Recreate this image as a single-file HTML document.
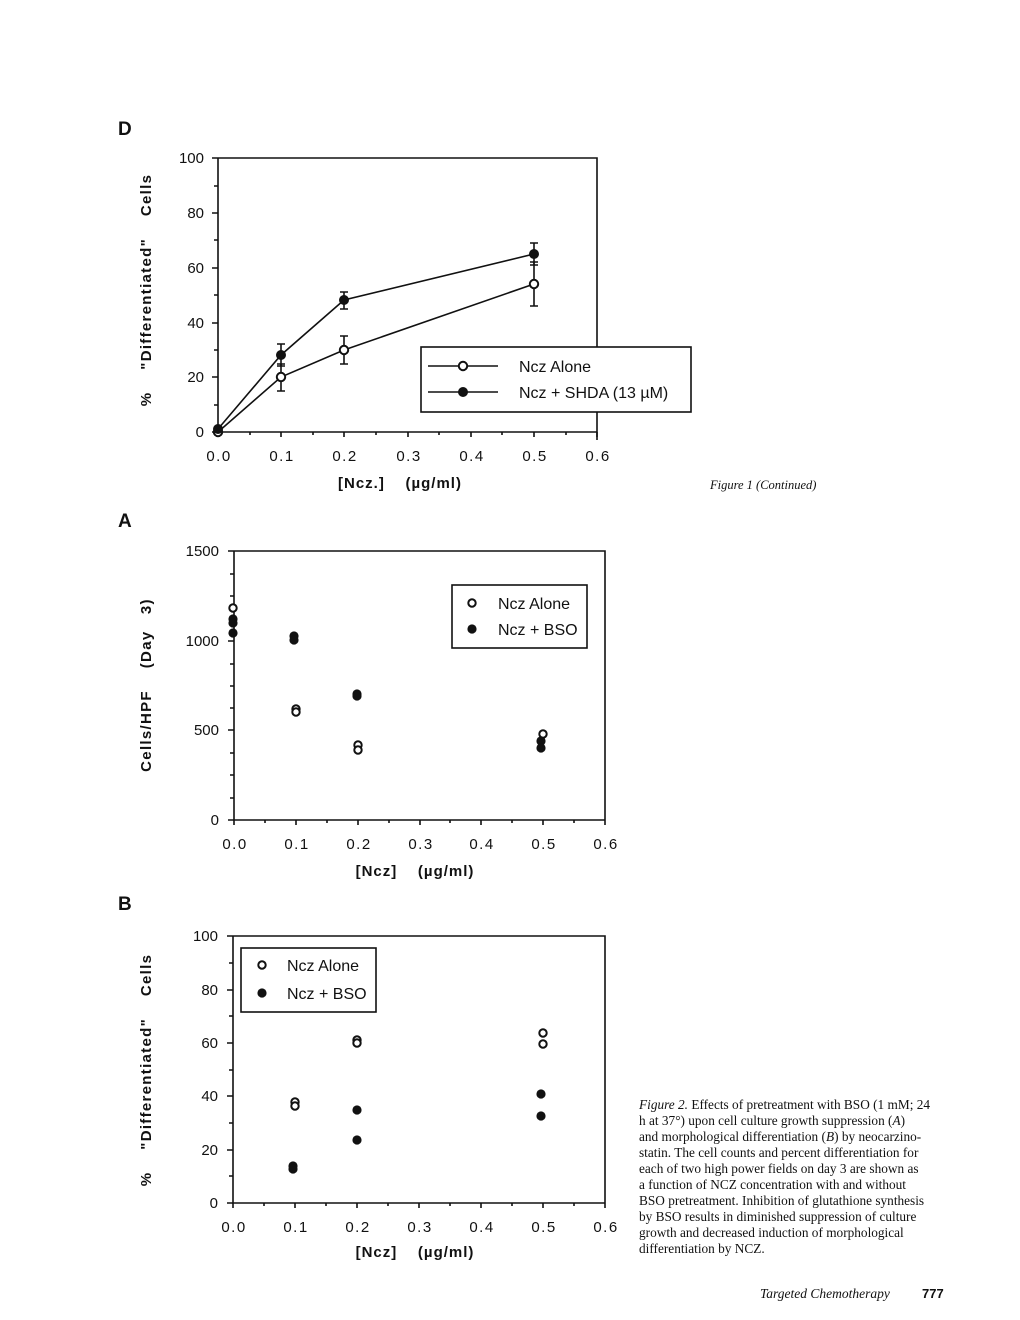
<!DOCTYPE html>
<html><head><meta charset="utf-8"><style>
html,body{margin:0;padding:0;background:#fff;}
svg{display:block;}
text{font-family:"Liberation Sans",sans-serif;fill:#111;}
.t{font-size:15px;}
.b{font-weight:bold;font-size:15px;}
text.s,.s text{font-family:"Liberation Serif",serif;font-size:12.5px;}
.cap text{font-size:13.3px;}
</style></head><body>
<svg width="1020" height="1320" viewBox="0 0 1020 1320" xmlns="http://www.w3.org/2000/svg">
<g stroke="#111" fill="none" stroke-width="1.6">
<path d="M218,158 H597 V440 M218,158 V432 H597"/>
<path d="M212,158h6M212,213h6M212,268h6M212,323h6M212,377h6M212,432h6 M214,186h4M214,240h4M214,295h4M214,350h4M214,405h4"/>
<path d="M218,432v5M281,432v5M344,432v5M408,432v5M471,432v5M534,432v5M597,432v5 M250,432v3M313,432v3M376,432v3M439,432v3M502,432v3M566,432v3"/>
<path d="M218,432 L281,377 L344,350 L534,284"/>
<path d="M218,429 L281,355 L344,300 L534,254"/>
<path d="M281,391V364M277,391h8M277,364h8 M344,364V336M340,364h8M340,336h8 M534,306V262M530,306h8M530,262h8"/>
<path d="M281,366V344M277,366h8M277,344h8 M344,309V292M340,309h8M340,292h8 M534,265V243M530,265h8M530,243h8"/>
<rect x="421" y="347" width="270" height="65" fill="#fff"/>
<path d="M428,366h70M428,392h70"/>
<path d="M234,551 H605 V820 M234,551 V820 H605"/>
<path d="M228,551h6M228,641h6M228,730h6M228,820h6 M230,596h4M230,686h4M230,775h4 M230,574h4M230,619h4M230,664h4M230,708h4M230,753h4M230,798h4"/>
<path d="M234,820v5M296,820v5M358,820v5M420,820v5M481,820v5M543,820v5M605,820v5 M265,820v3M327,820v3M389,820v3M450,820v3M512,820v3M574,820v3"/>
<rect x="452" y="585" width="135" height="63" fill="#fff"/>
<path d="M233,936 H605 V1203 M233,936 V1203 H605"/>
<path d="M227,936h6M227,990h6M227,1043h6M227,1096h6M227,1150h6M227,1203h6 M229,963h4M229,1016h4M229,1070h4M229,1123h4M229,1176h4"/>
<path d="M233,1203v5M295,1203v5M357,1203v5M419,1203v5M481,1203v5M543,1203v5M605,1203v5 M264,1203v3M326,1203v3M388,1203v3M450,1203v3M512,1203v3M574,1203v3"/>
<rect x="241" y="948" width="135" height="64" fill="#fff"/>
</g>
<g fill="#fff" stroke="#111" stroke-width="2">
<circle cx="218" cy="432" r="4.2"/><circle cx="281" cy="377" r="4.2"/><circle cx="344" cy="350" r="4.2"/><circle cx="534" cy="284" r="4.2"/><circle cx="463" cy="366" r="4.2"/>
<circle cx="233" cy="608" r="3.7"/><circle cx="296" cy="709" r="3.7"/><circle cx="296" cy="712" r="3.7"/><circle cx="358" cy="745" r="3.7"/><circle cx="358" cy="750" r="3.7"/><circle cx="543" cy="734" r="3.7"/><circle cx="472" cy="603" r="3.7"/>
<circle cx="295" cy="1102" r="3.7"/><circle cx="295" cy="1106" r="3.7"/><circle cx="357" cy="1040" r="3.7"/><circle cx="357" cy="1043" r="3.7"/><circle cx="543" cy="1033" r="3.7"/><circle cx="543" cy="1044" r="3.7"/><circle cx="262" cy="965" r="3.7"/>
</g>
<g fill="#111">
<circle cx="218" cy="429" r="5"/><circle cx="281" cy="355" r="5"/><circle cx="344" cy="300" r="5"/><circle cx="534" cy="254" r="5"/><circle cx="463" cy="392" r="5"/>
<circle cx="233" cy="619" r="4.6"/><circle cx="233" cy="623" r="4.6"/><circle cx="233" cy="633" r="4.6"/><circle cx="294" cy="636" r="4.6"/><circle cx="294" cy="640" r="4.6"/><circle cx="357" cy="694" r="4.6"/><circle cx="357" cy="696" r="4.6"/><circle cx="541" cy="741" r="4.6"/><circle cx="541" cy="748" r="4.6"/><circle cx="472" cy="629" r="4.6"/>
<circle cx="293" cy="1166" r="4.6"/><circle cx="293" cy="1169" r="4.6"/><circle cx="357" cy="1110" r="4.6"/><circle cx="357" cy="1140" r="4.6"/><circle cx="541" cy="1094" r="4.6"/><circle cx="541" cy="1116" r="4.6"/><circle cx="262" cy="993" r="4.6"/>
</g>
<text x="118" y="135" style="font-size:19px;font-weight:bold">D</text>
<g class="t" text-anchor="end">
<text x="204" y="163">100</text><text x="204" y="218">80</text><text x="204" y="273">60</text><text x="204" y="328">40</text><text x="204" y="382">20</text><text x="204" y="437">0</text>
</g>
<g class="t" text-anchor="middle" letter-spacing="1.5">
<text x="219" y="461">0.0</text><text x="282" y="461">0.1</text><text x="345" y="461">0.2</text><text x="409" y="461">0.3</text><text x="472" y="461">0.4</text><text x="535" y="461">0.5</text><text x="598" y="461">0.6</text>
</g>
<text x="400" y="488" class="b" text-anchor="middle" letter-spacing="1">[Ncz.]&#160;&#160;&#160;&#160;(µg/ml)</text>
<text class="b" transform="translate(151,290) rotate(-90)" text-anchor="middle" letter-spacing="1.3">%&#160;&#160;&#160;&#160;"Differentiated"&#160;&#160;&#160;&#160;Cells</text>
<text x="519" y="372" class="t" style="font-size:16px">Ncz Alone</text>
<text x="519" y="398" class="t" style="font-size:16px">Ncz + SHDA (13 µM)</text>
<text x="710" y="489" class="s" font-style="italic">Figure 1 (Continued)</text>
<text x="118" y="527" style="font-size:19px;font-weight:bold">A</text>
<g class="t" text-anchor="end">
<text x="219" y="556">1500</text><text x="219" y="646">1000</text><text x="219" y="735">500</text><text x="219" y="825">0</text>
</g>
<g class="t" text-anchor="middle" letter-spacing="1.5">
<text x="235" y="849">0.0</text><text x="297" y="849">0.1</text><text x="359" y="849">0.2</text><text x="421" y="849">0.3</text><text x="482" y="849">0.4</text><text x="544" y="849">0.5</text><text x="606" y="849">0.6</text>
</g>
<text x="415" y="876" class="b" text-anchor="middle" letter-spacing="1">[Ncz]&#160;&#160;&#160;&#160;(µg/ml)</text>
<text class="b" transform="translate(151,685) rotate(-90)" text-anchor="middle" letter-spacing="1.3">Cells/HPF&#160;&#160;&#160;&#160;(Day&#160;&#160;&#160;3)</text>
<text x="498" y="609" class="t" style="font-size:16px">Ncz Alone</text>
<text x="498" y="635" class="t" style="font-size:16px">Ncz + BSO</text>
<text x="118" y="910" style="font-size:19px;font-weight:bold">B</text>
<g class="t" text-anchor="end">
<text x="218" y="941">100</text><text x="218" y="995">80</text><text x="218" y="1048">60</text><text x="218" y="1101">40</text><text x="218" y="1155">20</text><text x="218" y="1208">0</text>
</g>
<g class="t" text-anchor="middle" letter-spacing="1.5">
<text x="234" y="1232">0.0</text><text x="296" y="1232">0.1</text><text x="358" y="1232">0.2</text><text x="420" y="1232">0.3</text><text x="482" y="1232">0.4</text><text x="544" y="1232">0.5</text><text x="606" y="1232">0.6</text>
</g>
<text x="415" y="1257" class="b" text-anchor="middle" letter-spacing="1">[Ncz]&#160;&#160;&#160;&#160;(µg/ml)</text>
<text class="b" transform="translate(151,1070) rotate(-90)" text-anchor="middle" letter-spacing="1.3">%&#160;&#160;&#160;&#160;"Differentiated"&#160;&#160;&#160;&#160;Cells</text>
<text x="287" y="971" class="t" style="font-size:16px">Ncz Alone</text>
<text x="287" y="999" class="t" style="font-size:16px">Ncz + BSO</text>
<g class="s cap">
<text x="639" y="1109"><tspan font-style="italic">Figure 2.</tspan> Effects of pretreatment with BSO (1 mM; 24</text>
<text x="639" y="1125">h at 37°) upon cell culture growth suppression (<tspan font-style="italic">A</tspan>)</text>
<text x="639" y="1141">and morphological differentiation (<tspan font-style="italic">B</tspan>) by neocarzino-</text>
<text x="639" y="1157">statin. The cell counts and percent differentiation for</text>
<text x="639" y="1173">each of two high power fields on day 3 are shown as</text>
<text x="639" y="1189">a function of NCZ concentration with and without</text>
<text x="639" y="1205">BSO pretreatment. Inhibition of glutathione synthesis</text>
<text x="639" y="1221">by BSO results in diminished suppression of culture</text>
<text x="639" y="1237">growth and decreased induction of morphological</text>
<text x="639" y="1253">differentiation by NCZ.</text>
</g>
<text x="760" y="1298" class="s" font-style="italic" style="font-size:13.5px">Targeted Chemotherapy</text>
<text x="922" y="1298" style="font-size:13px;font-weight:bold">777</text>
</svg>
</body></html>
